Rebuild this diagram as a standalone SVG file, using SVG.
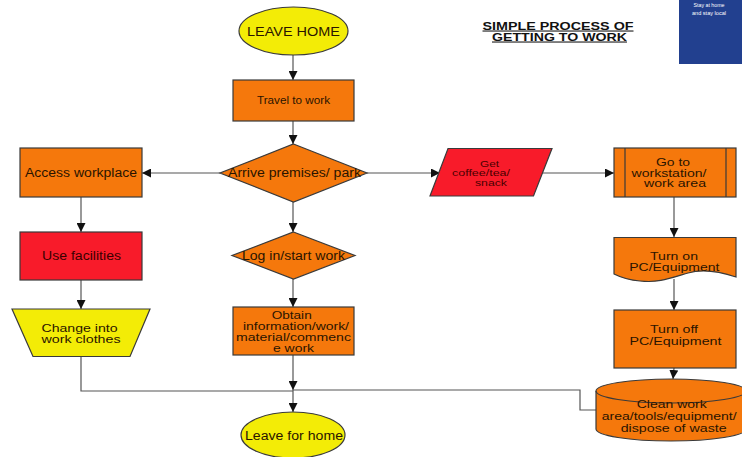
<svg xmlns="http://www.w3.org/2000/svg" width="742" height="457" viewBox="0 0 742 457">
<style>
text{font-family:"Liberation Sans",Arial,sans-serif;text-anchor:middle;fill:#2a1400}
.sh{stroke:#3a3a3a;stroke-width:1.2}
.or{fill:#F5780C}
.rd{fill:#F81B2A}
.ye{fill:#F3EC06}
.c{fill:none;stroke:#555;stroke-width:1.2}
.t12{font-size:12px}
.m11{font-size:10.8px}
.t11{font-size:10.5px}
.t10{font-size:10px}
.t9{font-size:9px;fill:#4a0000}
.title{font-size:10.5px;font-weight:bold;fill:#111;text-decoration:underline}
</style>
<defs>
<marker id="ah" viewBox="0 0 10 10" refX="10" refY="5" markerWidth="9" markerHeight="9" markerUnits="userSpaceOnUse" orient="auto">
<path d="M0,0 L10,5 L0,10 z" fill="#111"/>
</marker>
</defs>
<rect width="742" height="457" fill="#fff"/>
<g id="badge">
<rect x="679" y="0" width="63" height="64" fill="#22408F"/>
<text x="709" y="7" style="font-size:6px;fill:#fff" textLength="31" lengthAdjust="spacingAndGlyphs">Stay at home</text>
<text x="709" y="15" style="font-size:6px;fill:#fff" textLength="34" lengthAdjust="spacingAndGlyphs">and stay local</text>
</g>
<g id="title">
<text x="558" y="29.5" class="title" textLength="151" lengthAdjust="spacingAndGlyphs">SIMPLE PROCESS OF</text>
<text x="559.5" y="40.5" class="title" textLength="135" lengthAdjust="spacingAndGlyphs">GETTING TO WORK</text>
</g>
<g id="connectors">
<line class="c" x1="293" y1="55" x2="293" y2="80" marker-end="url(#ah)"/>
<line class="c" x1="293" y1="121" x2="293" y2="144" marker-end="url(#ah)"/>
<line class="c" x1="220" y1="173" x2="142" y2="173" marker-end="url(#ah)"/>
<line class="c" x1="367" y1="173" x2="440" y2="173" marker-end="url(#ah)"/>
<line class="c" x1="543" y1="173" x2="614" y2="173" marker-end="url(#ah)"/>
<line class="c" x1="293" y1="202" x2="293" y2="232" marker-end="url(#ah)"/>
<line class="c" x1="81" y1="197" x2="81" y2="232" marker-end="url(#ah)"/>
<line class="c" x1="81" y1="280" x2="81" y2="309" marker-end="url(#ah)"/>
<line class="c" x1="293" y1="279" x2="293" y2="307" marker-end="url(#ah)"/>
<line class="c" x1="674" y1="197" x2="674" y2="237" marker-end="url(#ah)"/>
<line class="c" x1="674" y1="279" x2="674" y2="310" marker-end="url(#ah)"/>
<line class="c" x1="674" y1="368" x2="673" y2="379" marker-end="url(#ah)"/>
<line class="c" x1="293" y1="355" x2="293" y2="390" marker-end="url(#ah)"/>
<polyline class="c" points="81,356 81,391 293,391"/>
<polyline class="c" points="596,410 580,410 580,390 293,390"/>
<line class="c" x1="293" y1="390" x2="293" y2="412" marker-end="url(#ah)"/>
</g>
<g id="leave-home">
<ellipse class="sh ye" cx="293.5" cy="31" rx="54.5" ry="24"/>
<text x="293.5" y="35.5" style="font-size:12.5px" textLength="93" lengthAdjust="spacingAndGlyphs">LEAVE HOME</text>
</g>
<g id="travel">
<rect class="sh or" x="233" y="80" width="121" height="41"/>
<text x="293.5" y="104" class="t10" textLength="73" lengthAdjust="spacingAndGlyphs">Travel to work</text>
</g>
<g id="arrive">
<polygon class="sh or" points="293.5,144 367,173 293.5,202 220,173"/>
<text x="294.5" y="177.3" class="t12" textLength="133" lengthAdjust="spacingAndGlyphs">Arrive premises/ park</text>
</g>
<g id="access">
<rect class="sh or" x="20" y="148" width="122" height="49"/>
<text x="81" y="177" class="t12" textLength="112" lengthAdjust="spacingAndGlyphs">Access workplace</text>
</g>
<g id="facilities">
<rect class="sh rd" x="20" y="232" width="122" height="48"/>
<text x="81.5" y="260.3" class="t12" style="fill:#3a0000" textLength="79" lengthAdjust="spacingAndGlyphs">Use facilities</text>
</g>
<g id="change">
<polygon class="sh ye" points="12,309 150,309 130,356.5 33,356.5"/>
<text x="79.5" y="332" class="t11" textLength="76" lengthAdjust="spacingAndGlyphs">Change into</text>
<text x="81" y="343" class="t11" textLength="79" lengthAdjust="spacingAndGlyphs">work clothes</text>
</g>
<g id="login">
<polygon class="sh or" points="293.5,232 355,255.5 293.5,279 232,255.5"/>
<text x="293.5" y="260" class="t12" textLength="103" lengthAdjust="spacingAndGlyphs">Log in/start work</text>
</g>
<g id="obtain">
<rect class="sh or" x="233" y="307" width="121" height="48"/>
<text x="291.7" y="318.8" class="t11" textLength="40" lengthAdjust="spacingAndGlyphs">Obtain</text>
<text x="296" y="329.8" class="t11" textLength="106" lengthAdjust="spacingAndGlyphs">information/work/</text>
<text x="293.5" y="341.2" class="t11" textLength="115" lengthAdjust="spacingAndGlyphs">material/commenc</text>
<text x="293.5" y="352.2" class="t11" textLength="41" lengthAdjust="spacingAndGlyphs">e work</text>
</g>
<g id="leave-for-home">
<ellipse class="sh ye" cx="293" cy="435" rx="52" ry="23"/>
<text x="294" y="440" class="t12" textLength="98" lengthAdjust="spacingAndGlyphs">Leave for home</text>
</g>
<g id="coffee">
<polygon class="sh rd" points="448,148.5 552,148.5 533.5,196 430,196"/>
<text x="489.5" y="166.5" class="t9" textLength="19" lengthAdjust="spacingAndGlyphs">Get</text>
<text x="481" y="176.3" class="t9" textLength="58" lengthAdjust="spacingAndGlyphs">coffee/tea/</text>
<text x="491" y="185.5" class="t9" textLength="32" lengthAdjust="spacingAndGlyphs">snack</text>
</g>
<g id="workstation">
<rect class="sh or" x="614" y="148" width="122" height="49"/>
<line class="sh" x1="625" y1="148" x2="625" y2="197"/>
<line class="sh" x1="726" y1="148" x2="726" y2="197"/>
<text x="673" y="165.5" class="m11" textLength="34" lengthAdjust="spacingAndGlyphs">Go to</text>
<text x="669" y="176.6" class="m11" textLength="75" lengthAdjust="spacingAndGlyphs">workstation/</text>
<text x="675" y="187.2" class="m11" textLength="62" lengthAdjust="spacingAndGlyphs">work area</text>
</g>
<g id="turn-on">
<path class="sh or" d="M614,237.5 H736 V277 C718,271 702,269 688,273 C668,279 658,283 640,281 C628,280 620,277 614,274 Z"/>
<text x="674" y="259.5" class="m11" textLength="48" lengthAdjust="spacingAndGlyphs">Turn on</text>
<text x="674.3" y="270.6" class="m11" textLength="90" lengthAdjust="spacingAndGlyphs">PC/Equipment</text>
</g>
<g id="turn-off">
<rect class="sh or" x="614" y="310" width="122" height="58"/>
<text x="674" y="333.2" class="m11" textLength="48" lengthAdjust="spacingAndGlyphs">Turn off</text>
<text x="675.5" y="344.6" class="m11" textLength="92" lengthAdjust="spacingAndGlyphs">PC/Equipment</text>
</g>
<g id="clean">
<path class="sh or" d="M596,391 V429 A75,12 0 0 0 746,429 V391 A75,12 0 0 0 596,391 Z"/>
<path class="sh" fill="none" d="M596,391 A75,12 0 0 0 746,391"/>
<text x="671.7" y="408.2" class="m11" textLength="70" lengthAdjust="spacingAndGlyphs">Clean work</text>
<text x="669.2" y="419.6" class="m11" textLength="135" lengthAdjust="spacingAndGlyphs">area/tools/equipment/</text>
<text x="673.7" y="431.6" class="m11" textLength="106" lengthAdjust="spacingAndGlyphs">dispose of waste</text>
</g>
</svg>
